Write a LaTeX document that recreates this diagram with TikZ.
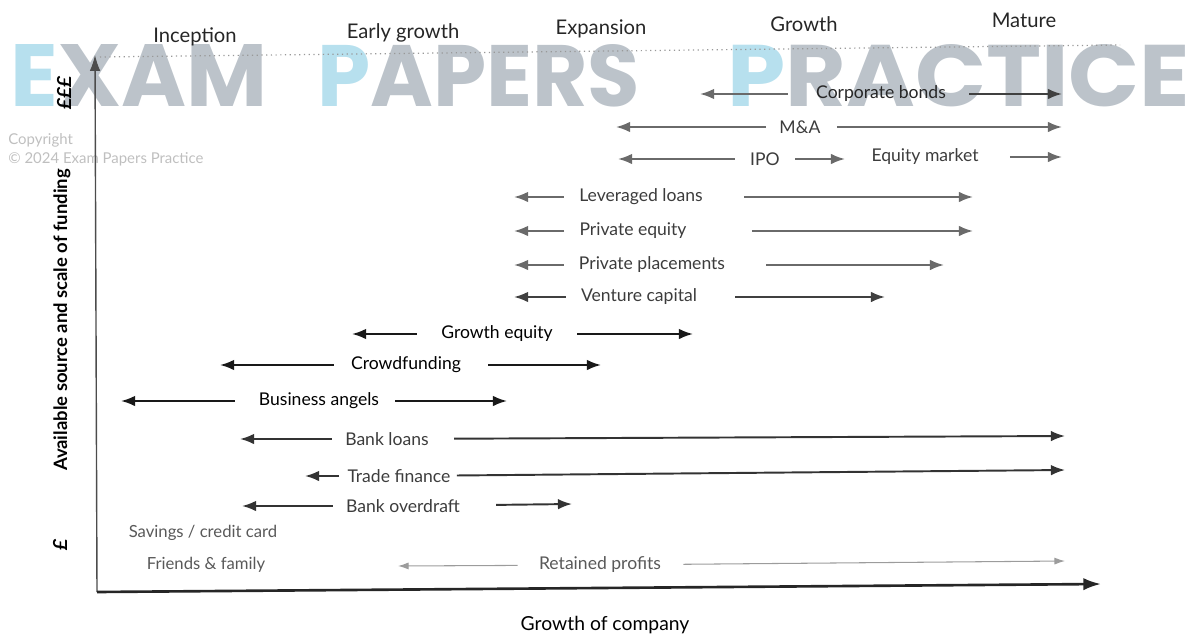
\documentclass[tikz,border=0pt]{standalone}
\usepackage{graphicx}
\usepackage{fontspec}
\setmainfont{Lato}
\newfontfamily\wmfont{Poppins}
\usetikzlibrary{arrows.meta}

\definecolor{wmblue}{HTML}{B7E0EE}
\definecolor{wmgray}{HTML}{BCC3CA}
\definecolor{arrgray}{HTML}{6A6A6A}
\definecolor{txtgray}{HTML}{3C3C3C}
\definecolor{paleline}{HTML}{9C9C9C}

\tikzset{
	lbl/.style={font=\fontsize{10}{12}\selectfont, text=txtgray, inner sep=0pt},
	dark/.style={lbl, text=black},
	stage/.style={font=\fontsize{11.5}{14}\selectfont, text=black!85, inner sep=0pt},
	wm/.style={anchor=south west, inner sep=0pt},
	garr/.style={draw=arrgray, line width=1.1pt, -{Latex[length=8pt,width=6pt]}, shorten <=0.3cm},
	darr/.style={garr, draw=black!90},
	parr/.style={garr, draw=paleline, line width=0.6pt, -{Latex[length=6pt,width=4pt]}}
}

\begin{document}
\begin{tikzpicture}[x=0.02cm, y=-0.02cm]
		\useasboundingbox (0,0) rectangle (1193,635);

		% watermark
		\node[wm] (wmexam) at (10,107) {\resizebox{5.14cm}{1.24cm}{\wmfont\bfseries\textcolor{wmblue}{E}\textcolor{wmgray}{XAM}}};
		\node[wm] (wmpapers) at (317,107) {\resizebox{6.46cm}{1.24cm}{\wmfont\bfseries\textcolor{wmblue}{P}\textcolor{wmgray}{APERS}}};
		\node[wm] (wmpractice) at (727,107) {\resizebox{9.26cm}{1.24cm}{\wmfont\bfseries\textcolor{wmblue}{P}\textcolor{wmgray}{RACTICE}}};
		\node[anchor=west, inner sep=0pt, text=black!25, font=\fontsize{8.5}{10}\selectfont] (cpy1) at (8,140) {Copyright};
		\node[anchor=west, inner sep=0pt, text=black!25, font=\fontsize{8.5}{10}\selectfont] (cpy2) at (8,159) {© 2024 Exam Papers Practice};

		% stages
		\node[stage] (inc) at (195,37) {Inception};
		\node[stage] (early) at (403,33) {Early growth};
		\node[stage] (expn) at (601,29) {Expansion};
		\node[stage] (grw) at (804,24) {Growth};
		\node[stage] (mat) at (1024,20) {Mature};
		\coordinate (dotl) at (100,57);
		\coordinate (dotr) at (1120,45);
		\draw[black!40, dotted, line width=0.7pt] (dotl) -- (dotr);

		% axes
		\coordinate (org) at (97,592);
		\coordinate (ytip) at (95,55);
		\coordinate (xtip) at (1101,584);
		\draw[black!70, line width=0.8pt, -{Latex[length=9pt,width=6pt]}] (org) -- (ytip);
		\draw[black!85, line width=1.5pt, -{Latex[length=10pt,width=7pt]}] (org) -- (xtip);
		\node[rotate=90, inner sep=0pt, font=\fontsize{10.5}{12}\selectfont\bfseries] (ylab) at (62,320) {Available source and scale of funding};
		\node[rotate=90, inner sep=0pt, font=\fontsize{11}{12}\selectfont\bfseries\itshape] (ppp) at (64,93) {£££};
		\node[rotate=90, inner sep=0pt, font=\fontsize{11}{12}\selectfont\bfseries\itshape] (pp) at (60,545) {£};
		\node[inner sep=0pt, font=\fontsize{11}{13}\selectfont] (xlab) at (605,625) {Growth of company};

		% funding rows
		\node[lbl, text=black!85] (cb) at (881,94) {Corporate bonds};
		\coordinate (cbl) at (700,94);
		\coordinate (cbr) at (1062,94);
		\draw[garr, shorten <=0.56cm] (cb) -- (cbl);
		\draw[garr, draw=black!75, shorten <=0.46cm] (cb) -- (cbr);

		\node[lbl] (ma) at (800,127) {M\&A};
		\coordinate (mal) at (616,127);
		\coordinate (mar) at (1062,127);
		\draw[garr, shorten <=0.26cm] (ma) -- (mal);
		\draw[garr, shorten <=0.32cm] (ma) -- (mar);

		\node[lbl] (ipo) at (765,159) {IPO};
		\node[lbl] (eqm) at (925,157) {Equity market};
		\coordinate (ipol) at (618,159);
		\coordinate (ipor) at (845,159);
		\coordinate (eqmr) at (1062,157);
		\draw[garr] (ipo) -- (ipol);
		\draw[garr] (ipo) -- (ipor);
		\draw[garr, shorten <=0.62cm] (eqm) -- (eqmr);

		\node[lbl] (lev) at (641,197) {Leveraged loans};
		\coordinate (levl) at (514,197);
		\coordinate (levr) at (973,197);
		\draw[garr] (lev) -- (levl);
		\draw[garr, shorten <=0.82cm] (lev) -- (levr);

		\node[lbl] (pe) at (633,231) {Private equity};
		\coordinate (pel) at (514,231);
		\coordinate (per) at (973,231);
		\draw[garr] (pe) -- (pel);
		\draw[garr, shorten <=1.3cm] (pe) -- (per);

		\node[lbl] (pp) at (652,265) {Private placements};
		\coordinate (ppl) at (514,265);
		\coordinate (ppr) at (944,265);
		\draw[garr] (pp) -- (ppl);
		\draw[garr, shorten <=0.82cm] (pp) -- (ppr);

		\node[lbl] (vc) at (639,297) {Venture capital};
		\coordinate (vcl) at (514,297);
		\coordinate (vcr) at (885,297);
		\draw[garr, draw=black!75] (vc) -- (vcl);
		\draw[garr, draw=black!75, shorten <=0.76cm] (vc) -- (vcr);

		\node[dark] (ge) at (497,334) {Growth equity};
		\coordinate (gel) at (352,334);
		\coordinate (ger) at (693,334);
		\draw[darr, shorten <=0.48cm] (ge) -- (gel);
		\draw[darr, shorten <=0.48cm] (ge) -- (ger);

		\node[dark] (cf) at (406,365) {Crowdfunding};
		\coordinate (cfl) at (220,365);
		\coordinate (cfr) at (601,365);
		\draw[darr, shorten <=0.34cm] (cf) -- (cfl);
		\draw[darr, shorten <=0.54cm] (cf) -- (cfr);

		\node[dark] (ba) at (319,401) {Business angels};
		\coordinate (bal) at (121,401);
		\coordinate (bar) at (507,401);
		\draw[darr, shorten <=0.48cm] (ba) -- (bal);
		\draw[darr, shorten <=0.32cm] (ba) -- (bar);

		\node[lbl] (bl) at (387,439) {Bank loans};
		\coordinate (bll) at (240,439);
		\coordinate (blr) at (1065,436);
		\draw[garr, draw=black!80, shorten <=0.26cm] (bl) -- (bll);
		\draw[garr, draw=black!80, shorten <=0.5cm] (bl) -- (blr);

		\node[lbl] (tf) at (399,476) {Trade finance};
		\coordinate (tfl) at (305,476);
		\coordinate (tfr) at (1065,470);
		\draw[garr, draw=black!80, shorten <=0.16cm] (tf) -- (tfl);
		\draw[garr, draw=black!80, shorten <=0.12cm] (tf) -- (tfr);

		\node[lbl] (bo) at (403,506) {Bank overdraft};
		\coordinate (bol) at (242,506);
		\coordinate (bor) at (572,504);
		\draw[garr, draw=black!80, shorten <=0.26cm] (bo) -- (bol);
		\draw[garr, draw=black!80, shorten <=0.72cm] (bo) -- (bor);

		\node[lbl, text=black!65, font=\fontsize{9.5}{11}\selectfont] (sav) at (203,533) {Savings / credit card};
		\node[lbl, text=black!65, font=\fontsize{9.5}{11}\selectfont] (ff) at (206,565) {Friends \& family};

		\node[lbl, text=black!65] (rp) at (600,565) {Retained profits};
		\coordinate (rpl) at (398,566);
		\coordinate (rpr) at (1065,561);
		\draw[parr, shorten <=0.42cm] (rp) -- (rpl);
		\draw[parr, shorten <=0.44cm] (rp) -- (rpr);

	\end{tikzpicture}
\end{document}
